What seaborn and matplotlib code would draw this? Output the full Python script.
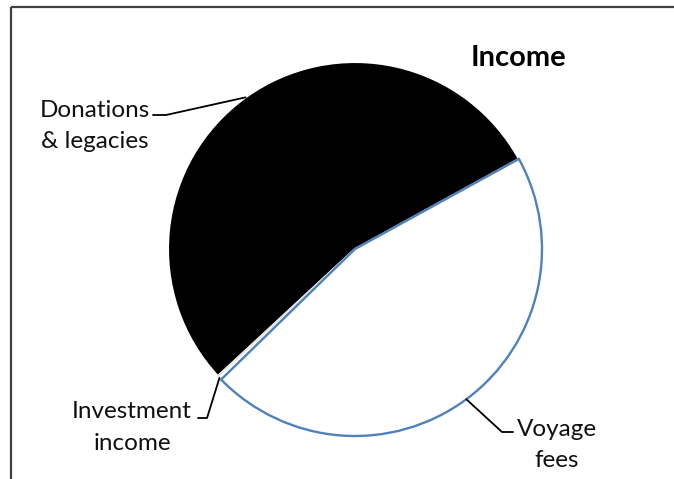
import numpy as np
import matplotlib
matplotlib.use("Agg")
import matplotlib.pyplot as plt
import seaborn as sns

# ---- data ----
categories = ["Donations\n& legacies", "Investment\nincome", "Voyage\nfees"]
values = [53.9, 0.4, 45.7]
title = "Income"

sns.set_theme(style="white")
plt.rcParams["font.family"] = ["Lato", "DejaVu Sans"]

W, H = 674, 479
fig = plt.figure(figsize=(W / 100, H / 100), dpi=100)
ax = fig.add_axes([0, 0, 1, 1])

cx, cy, R = 355, H - 249, 187
blue = "#4F81BD"
wedges, _ = ax.pie(values, startangle=28.8, counterclock=True,
                   colors=["black", "white", "white"],
                   center=(cx, cy), radius=R,
                   wedgeprops=dict(linewidth=1.5, edgecolor="white"))
wedges[1].set_edgecolor("#e6e6e6")
wedges[2].set_edgecolor(blue)
wedges[2].set_linewidth(1.7)
wedges[2].set_zorder(3)

ax.set_xlim(0, W)
ax.set_ylim(0, H)
ax.set_aspect("equal")
ax.axis("off")

def anchor(w):
    t = np.deg2rad((w.theta1 + w.theta2) / 2)
    return cx + R * np.cos(t), cy + R * np.sin(t)

fs = 17.5
lw = 1.3
tc = "#111111"
# Donations & legacies
ax.text(95, H - 116.7, "Donations", ha="center", va="baseline", fontsize=fs, color=tc)
ax.text(95, H - 148, "& legacies", ha="center", va="baseline", fontsize=fs, color=tc)
a = anchor(wedges[0])
ax.plot([153, 166, a[0]], [H - 115, H - 115, a[1]], color="black", lw=lw, zorder=5)

# Investment income
ax.text(132, H - 418, "Investment", ha="center", va="baseline", fontsize=fs, color=tc)
ax.text(132, H - 450, "income", ha="center", va="baseline", fontsize=fs, color=tc)
a = anchor(wedges[1])
ax.plot([198, 207, a[0]], [H - 418, H - 418, a[1]], color="black", lw=lw, zorder=5)

# Voyage fees
ax.text(557, H - 436, "Voyage", ha="center", va="baseline", fontsize=fs, color=tc)
ax.text(557, H - 467, "fees", ha="center", va="baseline", fontsize=fs, color=tc)
a = anchor(wedges[2])
ax.plot([a[0], 502, 513], [a[1], H - 432, H - 432], color="black", lw=lw, zorder=5)

# Title
ax.text(518, H - 66, title, ha="center", va="baseline", fontsize=21, fontweight="bold", color="black")

# border (top and left)
ax.plot([11, W], [H - 7, H - 7], color="#404040", lw=1.6, clip_on=False, solid_capstyle="butt")
ax.plot([11, 11], [H - 7, 0], color="#404040", lw=1.6, clip_on=False, solid_capstyle="butt")

fig.savefig("out.png", dpi=100, facecolor="white")
